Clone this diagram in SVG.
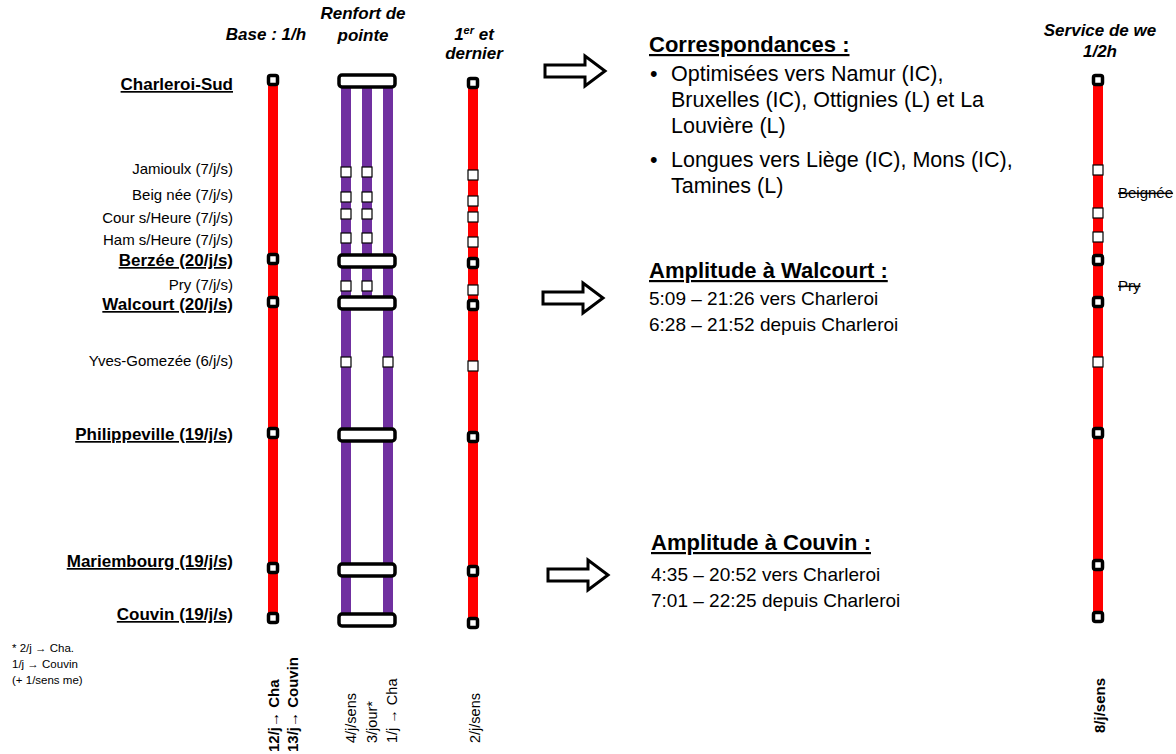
<svg xmlns="http://www.w3.org/2000/svg" width="1176" height="754" viewBox="0 0 1176 754">
<defs>
<style>
text{font-family:"Liberation Sans",Arial,sans-serif;fill:#000}
.hdr{font-weight:bold;font-style:italic;font-size:17px;text-anchor:middle}
.st{font-size:15px;text-anchor:end}
.stb{font-size:17px;font-weight:bold;text-anchor:end;text-decoration:underline}
.red{fill:#FF0000}
.pur{fill:#7030A0}
.maj{fill:#fff;stroke:#000;stroke-width:3.5}
.min{fill:#fff;stroke:#000;stroke-width:1.2}
.bar{fill:#fff;stroke:#000;stroke-width:3.5}
.arr{fill:#fff;stroke:#000;stroke-width:3}
.ttl{font-size:22px;font-weight:bold;text-decoration:underline}
.bul{font-size:21.5px}
.amp{font-size:19px}
.rot{font-size:14.5px}
.rotb{font-size:15px;font-weight:bold}
.strike{font-size:15px;text-decoration:line-through}
.fn{font-size:11.5px}
</style>
<path id="blk" d="M0,-6 H40 V-15 L60,0 L40,15 V6 H0 Z"/>
<rect id="mj" x="-4.5" y="-4.5" width="9" height="9" rx="2"/>
<rect id="mn" x="-5" y="-5" width="10" height="10"/>
<rect id="rb" x="-28" y="-6" width="56" height="12" rx="3"/>
</defs>
<rect width="1176" height="754" fill="#fff"/>

<g id="headers">
<text class="hdr" x="266" y="40">Base : 1/h</text>
<text class="hdr" x="363" y="19">Renfort de</text>
<text class="hdr" x="363" y="41">pointe</text>
<text class="hdr" x="474" y="40">1<tspan font-size="11" dy="-6">er</tspan><tspan dy="6"> et</tspan></text>
<text class="hdr" x="474" y="59">dernier</text>
<text class="hdr" x="1100" y="36">Service de we</text>
<text class="hdr" x="1100" y="57">1/2h</text>
</g>

<g id="station-labels">
<text class="stb" x="233" y="90">Charleroi-Sud</text>
<text class="st" x="233" y="174">Jamioulx (7/j/s)</text>
<text class="st" x="233" y="200">Beig née  (7/j/s)</text>
<text class="st" x="233" y="223">Cour s/Heure (7/j/s)</text>
<text class="st" x="233" y="245">Ham s/Heure (7/j/s)</text>
<text class="stb" x="233" y="266">Berzée (20/j/s)</text>
<text class="st" x="233" y="290">Pry (7/j/s)</text>
<text class="stb" x="233" y="310">Walcourt (20/j/s)</text>
<text class="st" x="233" y="366">Yves-Gomezée (6/j/s)</text>
<text class="stb" x="233" y="440">Philippeville (19/j/s)</text>
<text class="stb" x="233" y="567">Mariembourg (19/j/s)</text>
<text class="stb" x="233" y="620">Couvin (19/j/s)</text>
</g>

<g id="footnote">
<text class="fn" x="12" y="652">* 2/j → Cha.</text>
<text class="fn" x="12" y="668">1/j → Couvin</text>
<text class="fn" x="12" y="684">(+ 1/sens me)</text>
</g>

<g id="col-base">
<rect class="red" x="268" y="80" width="10" height="538"/>
<use href="#mj" class="maj" x="273" y="80"/>
<use href="#mj" class="maj" x="273" y="259"/>
<use href="#mj" class="maj" x="273" y="302"/>
<use href="#mj" class="maj" x="273" y="433"/>
<use href="#mj" class="maj" x="273" y="568"/>
<use href="#mj" class="maj" x="273" y="618"/>
<text class="rotb" transform="translate(279,752) rotate(-90)">12/j→ Cha</text>
<text class="rotb" transform="translate(298,752) rotate(-90)">13/j→ Couvin</text>
</g>

<g id="col-renfort">
<rect class="pur" x="341" y="81" width="10" height="539"/>
<rect class="pur" x="362" y="81" width="10" height="222"/>
<rect class="pur" x="383" y="81" width="10" height="539"/>
<use href="#rb" class="bar" x="367" y="81"/>
<use href="#rb" class="bar" x="367" y="261"/>
<use href="#rb" class="bar" x="367" y="303"/>
<use href="#rb" class="bar" x="367" y="435"/>
<use href="#rb" class="bar" x="367" y="570"/>
<use href="#rb" class="bar" x="367" y="620"/>
<use href="#mn" class="min" x="346" y="172"/><use href="#mn" class="min" x="367" y="172"/>
<use href="#mn" class="min" x="346" y="197"/><use href="#mn" class="min" x="367" y="197"/>
<use href="#mn" class="min" x="346" y="214"/><use href="#mn" class="min" x="367" y="214"/>
<use href="#mn" class="min" x="346" y="238"/><use href="#mn" class="min" x="367" y="238"/>
<use href="#mn" class="min" x="346" y="286"/><use href="#mn" class="min" x="367" y="286"/>
<use href="#mn" class="min" x="346" y="362"/><use href="#mn" class="min" x="388" y="362"/>
<text class="rot" transform="translate(356,743) rotate(-90)">4/j/sens</text>
<text class="rot" transform="translate(377,743) rotate(-90)">3/jour*</text>
<text class="rot" transform="translate(397,743) rotate(-90)">1/j → Cha</text>
</g>

<g id="col-premier-dernier">
<rect class="red" x="468" y="83" width="10" height="540"/>
<use href="#mj" class="maj" x="473" y="83"/>
<use href="#mn" class="min" x="473" y="175"/>
<use href="#mn" class="min" x="473" y="201"/>
<use href="#mn" class="min" x="473" y="217"/>
<use href="#mn" class="min" x="473" y="242"/>
<use href="#mj" class="maj" x="473" y="263"/>
<use href="#mn" class="min" x="473" y="290"/>
<use href="#mj" class="maj" x="473" y="305"/>
<use href="#mn" class="min" x="473" y="366"/>
<use href="#mj" class="maj" x="473" y="437"/>
<use href="#mj" class="maj" x="473" y="571"/>
<use href="#mj" class="maj" x="473" y="623"/>
<text class="rot" transform="translate(480,743) rotate(-90)">2/j/sens</text>
</g>

<g id="col-weekend">
<rect class="red" x="1093" y="80" width="10" height="537"/>
<use href="#mj" class="maj" x="1098" y="80"/>
<use href="#mn" class="min" x="1098" y="170"/>
<use href="#mn" class="min" x="1098" y="213"/>
<use href="#mn" class="min" x="1098" y="237"/>
<use href="#mj" class="maj" x="1098" y="260"/>
<use href="#mj" class="maj" x="1098" y="302"/>
<use href="#mn" class="min" x="1098" y="362"/>
<use href="#mj" class="maj" x="1098" y="433"/>
<use href="#mj" class="maj" x="1098" y="565"/>
<use href="#mj" class="maj" x="1098" y="617"/>
<text class="strike" x="1118" y="198">Beignée</text>
<text class="strike" x="1118" y="291">Pry</text>
<text class="rotb" transform="translate(1105,733) rotate(-90)">8/j/sens</text>
</g>

<g id="connectors">
<use href="#blk" class="arr" x="545" y="71"/>
<use href="#blk" class="arr" x="543" y="298"/>
<use href="#blk" class="arr" x="548" y="575"/>
</g>

<g id="box-correspondances">
<text class="ttl" x="649" y="52">Correspondances :</text>
<text class="bul" x="650" y="81">•</text>
<text class="bul" x="671" y="81">Optimisées vers Namur (IC),</text>
<text class="bul" x="671" y="107">Bruxelles (IC), Ottignies (L) et La</text>
<text class="bul" x="671" y="133">Louvière (L)</text>
<text class="bul" x="650" y="167">•</text>
<text class="bul" x="671" y="167">Longues vers Liège (IC), Mons (IC),</text>
<text class="bul" x="671" y="193">Tamines (L)</text>
</g>

<g id="box-walcourt">
<text class="ttl" x="649" y="278">Amplitude à Walcourt :</text>
<text class="amp" x="649" y="305">5:09 – 21:26 vers Charleroi</text>
<text class="amp" x="649" y="331">6:28 – 21:52 depuis Charleroi</text>
</g>

<g id="box-couvin">
<text class="ttl" x="651" y="550">Amplitude à Couvin :</text>
<text class="amp" x="651" y="581">4:35 – 20:52 vers Charleroi</text>
<text class="amp" x="651" y="607">7:01 – 22:25 depuis Charleroi</text>
</g>
</svg>
